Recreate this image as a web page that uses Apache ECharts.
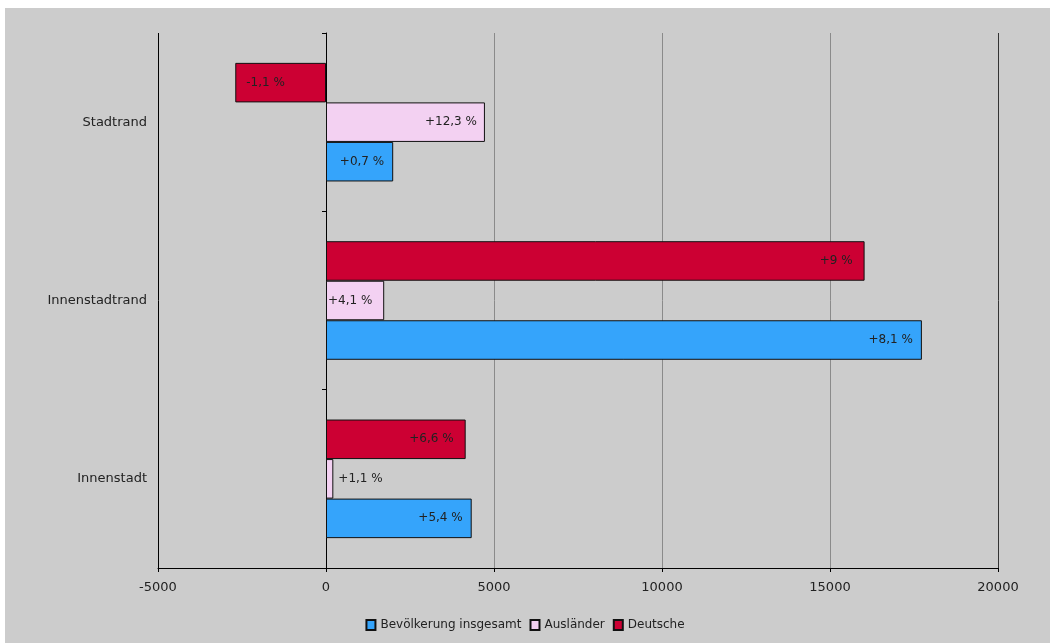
<!DOCTYPE html>
<html>
<head>
<meta charset="utf-8">
<script src="https://cdn.jsdelivr.net/npm/echarts@6/dist/echarts.min.js"></script>
<style>
html,body{margin:0;padding:0;background:#fff;}
#wrap{position:relative;width:1050px;height:643px;background:#fff;overflow:hidden;}
#bg{position:absolute;left:5px;top:8px;right:0;bottom:0;background:#cccccc;}
#chart{position:absolute;left:0;top:0;width:1050px;height:643px;}
</style>
</head>
<body>
<div id="wrap"><div id="bg"></div><div id="chart"></div></div>
<script>
// Categories (bottom to top)
const categories = ['Innenstadt', 'Innenstadtrand', 'Stadtrand'];
// Series values
const gesamtValues = [4336, 17735, 2000];
const auslaenderValues = [218, 1732, 4730];
const deutscheValues = [4157, 16030, -2700];
// Data labels
const gesamtLabels = ['+5,4 %', '+8,1 %', '+0,7 %'];
const auslaenderLabels = ['+1,1 %', '+4,1 %', '+12,3 %'];
const deutscheLabels = ['+6,6 %', '+9 %', '-1,1 %'];
// Value axis ticks
const xMin = -5000, xMax = 20000, xStep = 5000;

const FONT = 'DejaVu Sans';
const chart = echarts.init(document.getElementById('chart'), null, {renderer: 'canvas'});

function mkData(values, posFn) {
  return values.map((v, i) => {
    const p = posFn(v, i);
    return {value: v, label: {position: p.pos, distance: p.dist}};
  });
}
function mkSeries(name, color, values, labels, posFn) {
  return {
    name: name,
    type: 'bar',
    yAxisIndex: 0,
    barGap: '0%',
    barCategoryGap: '33.5%',
    itemStyle: {color: color, borderColor: '#111', borderWidth: 1},
    label: {
      show: true,
      fontFamily: FONT, fontSize: 12, color: '#222',
      formatter: p => labels[p.dataIndex]
    },
    data: mkData(values, posFn)
  };
}

const option = {
  backgroundColor: 'transparent',
  animation: false,
  grid: {left: 158, right: 52, top: 33, bottom: 75, containLabel: false},
  xAxis: {
    type: 'value', min: xMin, max: xMax, interval: xStep,
    axisLine: {show: true, onZero: false, lineStyle: {color: '#000', width: 1}},
    axisTick: {show: true, length: 4, lineStyle: {color: '#000'}},
    axisLabel: {fontFamily: FONT, fontSize: 13, color: '#222', margin: 13, formatter: v => String(v)},
    splitLine: {show: true, lineStyle: {color: ['#000', '#000', '#8a8a8a', '#8a8a8a', '#8a8a8a', '#333'], width: 1}}
  },
  yAxis: [
    {
      type: 'category', data: categories, position: 'left',
      axisLine: {show: false, onZero: false},
      axisTick: {show: false},
      axisLabel: {fontFamily: FONT, fontSize: 13, color: '#222', margin: 11},
      splitLine: {show: false}
    },
    {
      type: 'category', data: categories, position: 'left',
      axisLine: {show: true, onZero: true, lineStyle: {color: '#000', width: 1}},
      axisTick: {show: true, length: 4, lineStyle: {color: '#000'}},
      axisLabel: {show: false},
      splitLine: {show: false}
    }
  ],
  legend: {
    bottom: 7, left: 'center',
    itemWidth: 9, itemHeight: 10, itemGap: 8,
    icon: 'rect',
    textStyle: {fontFamily: FONT, fontSize: 12, color: '#222'},
    data: ['Bevölkerung insgesamt', 'Ausländer', 'Deutsche']
  },
  series: [
    mkSeries('Deutsche', '#cc0033', deutscheValues, deutscheLabels,
      (v) => v < 0 ? {pos: 'insideLeft', dist: 11} : {pos: 'insideRight', dist: 12}),
    mkSeries('Ausländer', '#f3d1f2', auslaenderValues, auslaenderLabels,
      (v, i) => i === 0 ? {pos: 'right', dist: 5} : (i === 1 ? {pos: 'insideLeft', dist: 2} : {pos: 'insideRight', dist: 8})),
    mkSeries('Bevölkerung insgesamt', '#35a4fb', gesamtValues, gesamtLabels,
      () => ({pos: 'insideRight', dist: 9}))
  ]
};
chart.setOption(option);
</script>
</body>
</html>
